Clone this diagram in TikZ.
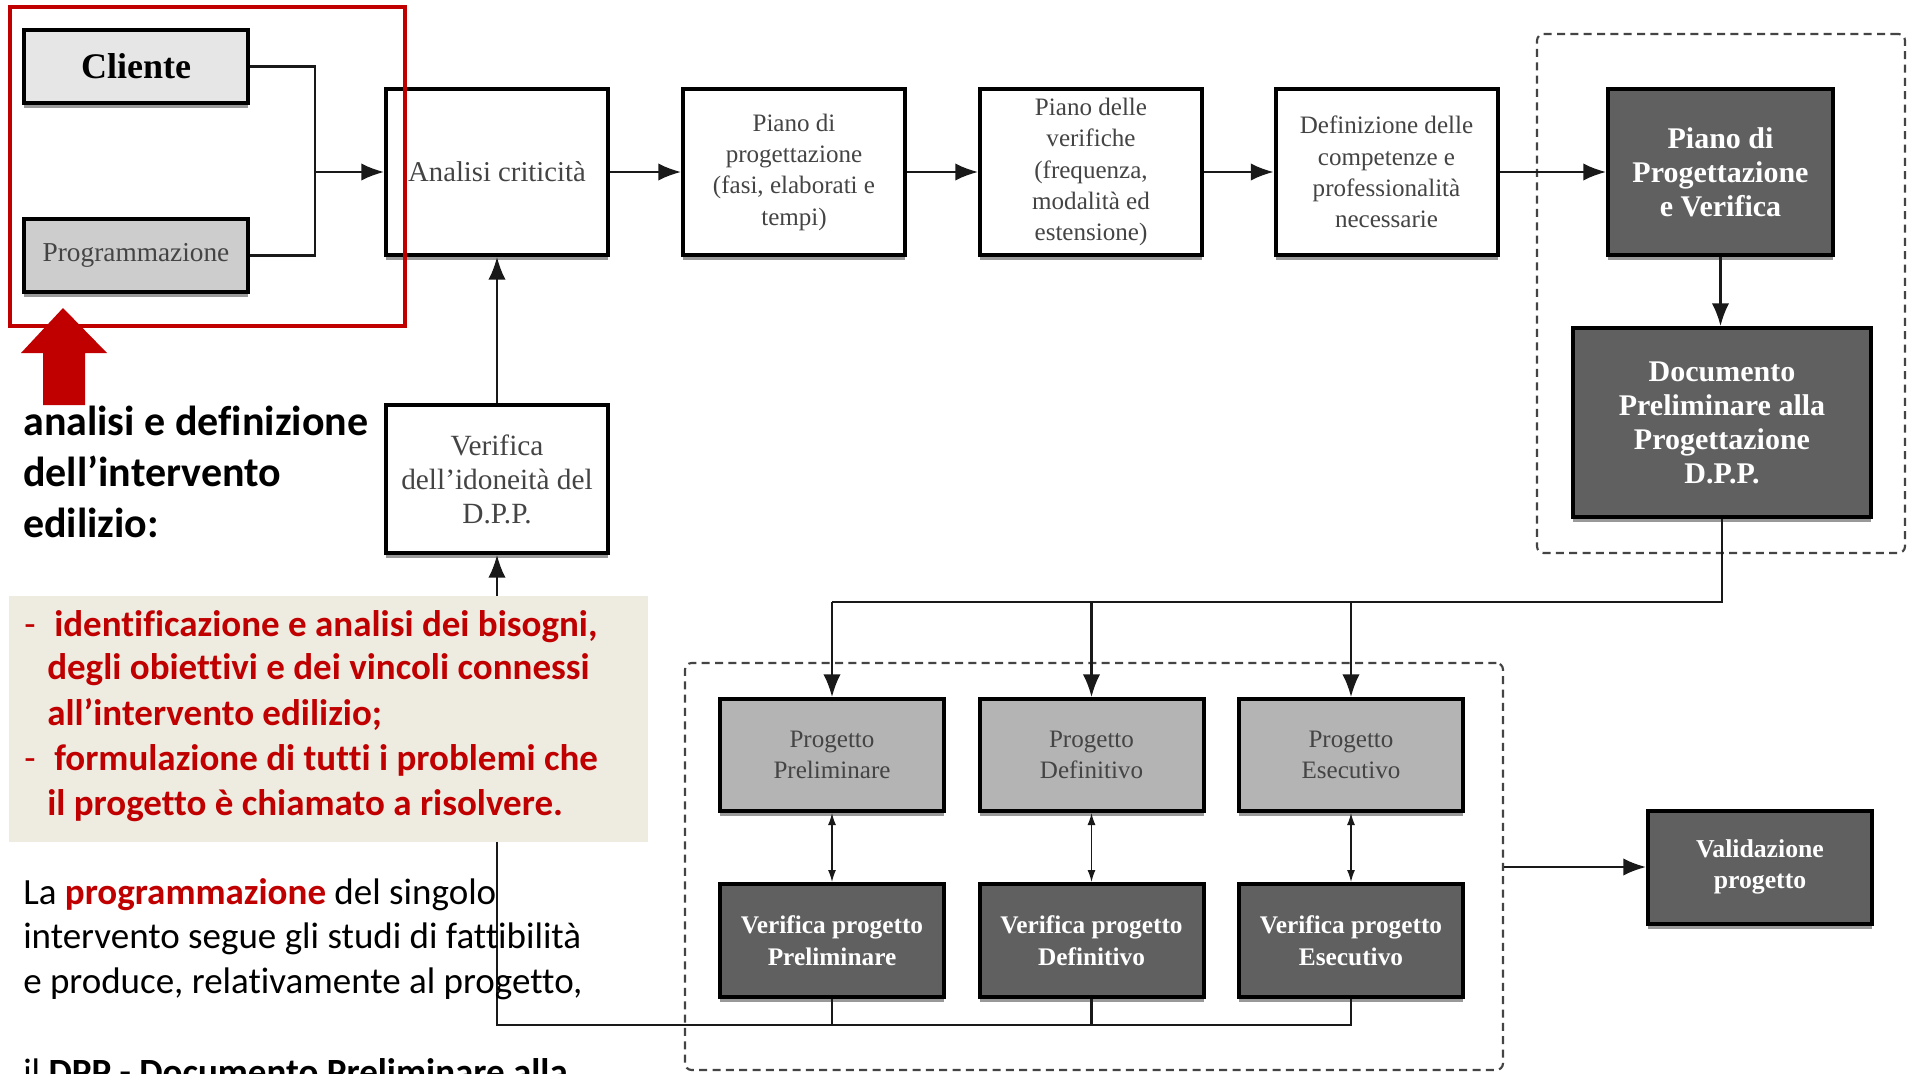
\documentclass[tikz,border=0pt]{standalone}
\usepackage{fontspec}
\setmainfont{Liberation Serif}
\newfontfamily\calfont[Ligatures=NoCommon]{Carlito}
\usetikzlibrary{arrows.meta,shadows}
\definecolor{dboxc}{HTML}{606060}
\definecolor{redc}{HTML}{C00000}
\definecolor{beigec}{HTML}{EEECE1}
\definecolor{txtc}{HTML}{444444}
\definecolor{cliec}{HTML}{E6E6E6}
\definecolor{progc}{HTML}{CDCDCD}
\definecolor{midc}{HTML}{B4B4B4}
\definecolor{dashc}{HTML}{444444}
\tikzset{
  conn/.style={draw=black!90, line width=1.6pt},
  arr/.style={conn, -{Latex[length=17pt,width=13pt]}},
  darr/.style={draw=black!90, line width=1pt, {Latex[length=9pt,width=6pt]}-{Latex[length=9pt,width=6pt]}},
  boxbase/.style={draw=black, line width=3pt, align=center, inner sep=0pt,
     drop shadow={shadow xshift=0pt, shadow yshift=-4pt, opacity=0.4, fill=black}},
  topbox/.style={boxbase, fill=white, text=txtc, minimum width=166.5pt, minimum height=124.5pt,
     font=\fontsize{18.8}{23.5}\selectfont},
  dkbox/.style={boxbase, fill=dboxc, text=white, font=\bfseries\fontsize{22.5}{25.5}\selectfont},
  prbox/.style={boxbase, fill=midc, text=txtc, minimum width=168pt, minimum height=84pt,
     font=\fontsize{18.8}{23.7}\selectfont},
  vrbox/.style={dkbox, minimum width=168pt, minimum height=84.75pt, font=\bfseries\fontsize{19}{23.7}\selectfont},
  inbox/.style={boxbase, minimum width=168pt, minimum height=54.75pt},
  dashframe/.style={draw=dashc, line width=1.6pt, dash pattern=on 6pt off 4pt, rounded corners=5pt, inner sep=0pt},
  headtxt/.style={anchor=base west, inner sep=0pt, font=\calfont\bfseries\fontsize{31.5}{38}\selectfont},
  redtxt/.style={anchor=base west, inner sep=0pt, text=redc, font=\calfont\bfseries\fontsize{27.75}{33}\selectfont},
  reddash/.style={anchor=base west, inner sep=0pt, text=redc, font=\calfont\fontsize{27.75}{33}\selectfont},
  bodytxt/.style={anchor=base west, inner sep=0pt, font=\calfont\fontsize{27.75}{33}\selectfont},
}
\begin{document}
\begin{tikzpicture}[x=0.75pt,y=-0.75pt]
\useasboundingbox (0,0) rectangle (1907,1074);
\clip (0,0) rectangle (1907,1074);
\fill[white] (0,0) rectangle (1907,1074);

% dashed frames
\node[dashframe, minimum width=276pt, minimum height=389.25pt] (g1) at (1721,293.5) {};
\node[dashframe, minimum width=613.5pt, minimum height=305.25pt] (g2) at (1094,866.5) {};

% boxes
\node[inbox, fill=cliec, font=\bfseries\fontsize{27}{30}\selectfont] (cli) at (136,66.5) {Cliente};
\node[inbox, fill=progc, text=txtc, font=\fontsize{20.5}{24}\selectfont] (prg) at (136,255.5) {Programmazione};
\node[topbox, font=\fontsize{21.5}{25.5}\selectfont] (ana) at (497,172) {Analisi criticità};
\node[topbox] (pp) at (794,172) {Piano di\\progettazione\\(fasi, elaborati e\\tempi)};
\node[topbox] (pv) at (1091,172) {Piano delle\\verifiche\\(frequenza,\\modalità ed\\estensione)};
\node[topbox] (def) at (1386.5,172) {Definizione delle\\competenze e\\professionalità\\necessarie};
\node[dkbox, minimum width=168.75pt, minimum height=124.5pt] (ppv) at (1720.5,172) {Piano di\\Progettazione\\e Verifica};
\node[dkbox, minimum width=223.5pt, minimum height=141.75pt] (dpp) at (1722,422.5) {Documento\\Preliminare alla\\Progettazione\\D.P.P.};
\node[topbox, minimum height=111pt, font=\fontsize{22}{25.5}\selectfont] (vid) at (497,479) {Verifica\\dell'idoneità del\\D.P.P.};
\node[prbox] (prp) at (832,755) {Progetto\\Preliminare};
\node[prbox] (prd) at (1091.5,755) {Progetto\\Definitivo};
\node[prbox] (pre) at (1351,755) {Progetto\\Esecutivo};
\node[vrbox] (vpp) at (832,940.5) {Verifica progetto\\Preliminare};
\node[vrbox] (vpd) at (1091.5,940.5) {Verifica progetto\\Definitivo};
\node[vrbox] (vpe) at (1351,940.5) {Verifica progetto\\Esecutivo};
\node[vrbox, font=\bfseries\fontsize{19.3}{23.7}\selectfont] (val) at (1760,867) {Validazione\\progetto};

% connectors
\coordinate (jn) at (315,172);
\draw[conn] (cli.east) -| (jn);
\draw[conn] (prg.east) -| (jn);
\draw[arr] (jn) -- (ana.west);
\draw[arr] (ana.east) -- (pp.west);
\draw[arr] (pp.east) -- (pv.west);
\draw[arr] (pv.east) -- (def.west);
\draw[arr] (def.east) -- (ppv.west);
\draw[arr] (ppv.south) -- (ppv.south |- dpp.north);
\coordinate (bus) at (0,602);
\draw[conn] (dpp.south) |- (prp.north |- bus);
\draw[arr] (prp.north |- bus) -- (prp.north);
\draw[arr] (prd.north |- bus) -- (prd.north);
\draw[arr] (pre.north |- bus) -- (pre.north);
\draw[darr] (prp.south) -- (vpp.north);
\draw[darr] (prd.south) -- (vpd.north);
\draw[darr] (pre.south) -- (vpe.north);
\coordinate (fb) at (0,1025);
\draw[conn] (vpp.south) -- (vpp.south |- fb);
\draw[conn] (vpd.south) -- (vpd.south |- fb);
\draw[arr] (vpe.south) |- (vid.south |- fb) -- (vid.south);
\draw[arr] (vid.north) -- (ana.south);
\draw[arr] (g2.east |- val.west) -- (val.west);

% red frame and arrow
\node[draw=redc, line width=3pt, inner sep=0pt, minimum width=296.25pt, minimum height=239.25pt] (rf) at (207.5,166.5) {};
\fill[redc] (43,405) -- (43,353) -- (21,353) -- (63,308) -- (107,353) -- (85,353) -- (85,405) -- cycle;

% note box and texts
\node[fill=beigec, minimum width=479.25pt, minimum height=184.5pt, inner sep=0pt] (note) at (328.5,719) {};
\node[headtxt] (h1) at (23,435) {analisi e definizione};
\node[headtxt] (h2) at (23,486) {dell’intervento};
\node[headtxt] (h3) at (23,537) {edilizio:};
\node[reddash] (d1) at (24,636) {-};
\node[redtxt] (r1) at (54,636) {identificazione e analisi dei bisogni,};
\node[redtxt] (r2) at (47,679) {degli obiettivi e dei vincoli connessi};
\node[redtxt] (r3) at (47,725) {all’intervento edilizio;};
\node[reddash] (d2) at (24,770) {-};
\node[redtxt] (r4) at (54,770) {formulazione di tutti i problemi che};
\node[redtxt] (r5) at (47,815) {il progetto è chiamato a risolvere.};
\node[bodytxt] (b1) at (23,904) {La \textcolor{redc}{\bfseries programmazione} del singolo};
\node[bodytxt] (b2) at (23,948) {intervento segue gli studi di fattibilità};
\node[bodytxt] (b3) at (23,993) {e produce, relativamente al progetto,};
\node[bodytxt] (b4) at (23,1084) {il \textbf{DPP - Documento Preliminare alla}};
\end{tikzpicture}
\end{document}
